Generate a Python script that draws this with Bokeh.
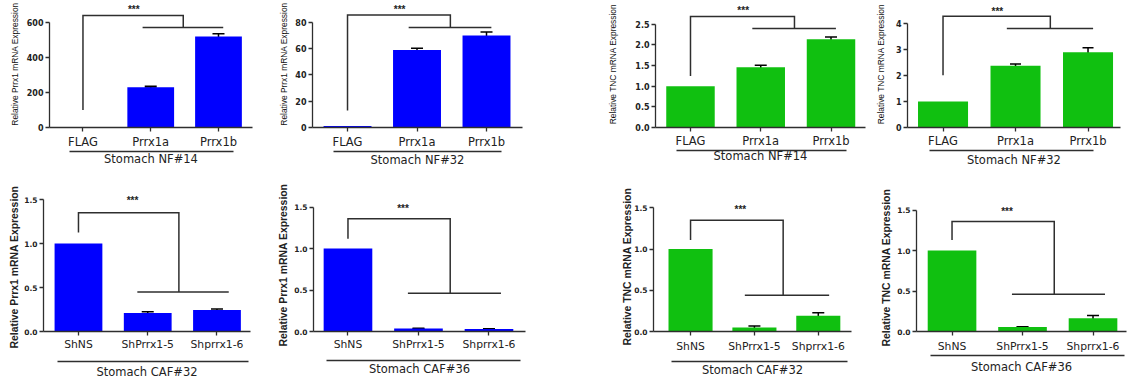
from bokeh.plotting import figure
from bokeh.models import (ColumnDataSource, Whisker, TeeHead, LinearAxis, FixedTicker,
                          Range1d, NumeralTickFormatter, Title)
from bokeh.layouts import row, column
from bokeh.core.properties import value
from bokeh.embed import file_html
from bokeh.resources import INLINE

# ---------------- data ----------------
overexp_groups = ["FLAG", "Prrx1a", "Prrx1b"]
knockdown_groups = ["ShNS", "ShPrrx1-5", "Shprrx1-6"]

nf14_prrx1 = [2.0, 230.0, 520.0]
nf14_prrx1_err = [0.0, 5.0, 16.0]
nf32_prrx1 = [1.2, 59.0, 70.0]
nf32_prrx1_err = [0.0, 1.2, 2.6]
nf14_tnc = [1.0, 1.46, 2.14]
nf14_tnc_err = [0.0, 0.05, 0.05]
nf32_tnc = [1.0, 2.38, 2.90]
nf32_tnc_err = [0.0, 0.07, 0.18]

caf32_prrx1 = [1.0, 0.21, 0.245]
caf32_prrx1_err = [0.0, 0.015, 0.012]
caf36_prrx1 = [1.0, 0.035, 0.03]
caf36_prrx1_err = [0.0, 0.004, 0.004]
caf32_tnc = [1.0, 0.05, 0.19]
caf32_tnc_err = [0.0, 0.018, 0.038]
caf36_tnc = [1.0, 0.055, 0.165]
caf36_tnc_err = [0.0, 0.005, 0.032]

# y-axis ticks
ticks_nf14_prrx1 = [0, 200, 400, 600]
ticks_nf32_prrx1 = [0, 20, 40, 60, 80]
ticks_nf14_tnc = [0.0, 0.5, 1.0, 1.5, 2.0, 2.5]
ticks_nf32_tnc = [0, 1, 2, 3, 4]
ticks_caf = [0.0, 0.5, 1.0, 1.5]

# significance brackets: [start of left leg, top line, lower line] in data units
sig_nf14_prrx1 = [100, 640, 571]
sig_nf32_prrx1 = [13, 85.6, 76]
sig_nf14_tnc = [1.25, 2.69, 2.40]
sig_nf32_tnc = [2.02, 4.29, 3.82]
sig_caf32_prrx1 = [1.125, 1.35, 0.45]
sig_caf36_prrx1 = [1.12, 1.36, 0.46]
sig_caf32_tnc = [1.11, 1.35, 0.44]
sig_caf36_tnc = [1.13, 1.36, 0.46]
star_level = {"nf14_prrx1": 686, "nf32_prrx1": 91.3, "nf14_tnc": 2.88, "nf32_tnc": 4.54,
              "caf": 1.51}

BLUE = "#0000ff"
GREEN = "#10c010"
AX = "#2e2e2e"
TXT = "#222222"


def make_panel(cats, vals, errs, color, ylabel, title, yticks, yfmt, sig, star_y, g):
    p = figure(width=g["w"], height=g["h"],
               x_range=Range1d(g["x0"], g["x1"]), y_range=Range1d(0, g["ytop"]),
               x_axis_type=None, y_axis_type=None,
               output_backend="svg", toolbar_location=None,
               min_border_left=g["l"], min_border_right=g["r"],
               min_border_top=0, min_border_bottom=g["h"] - g["axis_y"])
    p.outline_line_color = None
    p.background_fill_color = "white"
    p.border_fill_color = "white"

    idx = list(range(len(cats)))
    src = ColumnDataSource(dict(x=idx, top=vals))
    p.vbar(x="x", top="top", width=0.69, bottom=0, source=src,
           fill_color=color, line_color=None)

    ex = [i for i, e in zip(idx, errs) if e > 0]
    eu = [v + e for v, e in zip(vals, errs) if e > 0]
    el = [v - e for v, e in zip(vals, errs) if e > 0]
    esrc = ColumnDataSource(dict(x=ex, upper=eu, lower=el))
    p.add_layout(Whisker(source=esrc, base="x", upper="upper", lower="lower",
                         line_color="black", line_width=1.5,
                         upper_head=TeeHead(size=g["cap"], line_color="black", line_width=1.5),
                         lower_head=TeeHead(size=g["cap"], line_color="black", line_width=1.5)))

    # significance bracket
    start, top, low = sig
    xr, l0, l1 = g["br"]
    p.multi_line(xs=[[0, 0, xr, xr], [l0, l1]], ys=[[start, top, top, low], [low, low]],
                 line_color=AX, line_width=1.5, line_join="miter")
    p.text(x=[g["sx"]], y=[star_y], text=["***"], text_align="center",
           text_baseline="middle", y_offset=2,
           text_font=value("Liberation Sans"), text_font_size="10px",
           text_font_style="bold", text_color=TXT)

    # y axis
    yax = LinearAxis(ticker=FixedTicker(ticks=yticks), bounds=(0, yticks[-1]),
                     formatter=NumeralTickFormatter(format=yfmt),
                     major_label_standoff=2,
                     major_label_text_font="DejaVu Sans",
                     major_label_text_font_style="bold",
                     major_label_text_font_size=g["ytf"],
                     major_label_text_color=TXT,
                     major_tick_in=0, major_tick_out=4,
                     minor_tick_in=0, minor_tick_out=0,
                     axis_line_color=AX, axis_line_width=1.3,
                     major_tick_line_color=AX, major_tick_line_width=1.3)
    p.add_layout(yax, "left")
    if g["ylab_free"]:
        # rotated label beside the axis; it starts a little below the x axis
        hbox = 1.117 * float(g["ylf"].replace("px", ""))
        so = int(round(g["ylx"] - 6 - g["tw"] - hbox / 2))
        p.add_layout(Title(text=ylabel, align="left", offset=-(g["ylb"] - g["axis_y"]),
                           standoff=so,
                           text_font="Liberation Sans", text_font_size=g["ylf"],
                           text_font_style=g["ylw"], text_color=TXT), "left")
    else:
        yax.axis_label = ylabel
        yax.axis_label_standoff = g["yls"]
        yax.axis_label_text_font = "Liberation Sans"
        yax.axis_label_text_font_size = g["ylf"]
        yax.axis_label_text_font_style = g["ylw"]
        yax.axis_label_text_color = "#111111"

    # category axis
    f1 = g["cf"]
    s1 = int(round(g["lab_y"] - g["axis_y"] - 4 - 0.565 * f1)) - g["s1adj"]
    box_bottom = g["axis_y"] + 4 + s1 + 1.164 * f1 + 5
    gap = g["under_y"] - box_bottom
    xax = LinearAxis(ticker=FixedTicker(ticks=idx),
                     major_label_overrides={i: c for i, c in enumerate(cats)},
                     major_label_standoff=s1,
                     major_label_text_font="DejaVu Sans",
                     major_label_text_font_size=f"{f1}px",
                     major_label_text_color=TXT,
                     major_tick_in=0, major_tick_out=4,
                     minor_tick_in=0, minor_tick_out=0,
                     axis_line_color=AX, axis_line_width=1.3,
                     major_tick_line_color=AX, major_tick_line_width=1.3)
    if gap >= 2:
        xax.axis_label = " "
        xax.axis_label_text_font_size = "1px"
        xax.axis_label_standoff = int(round(gap - 1))
    p.add_layout(xax, "below")

    # underline + group title
    f2 = g["tf"]
    s2 = int(round(g["title_y"] - g["under_y"] - 0.565 * f2)) - g["s2adj"]
    uax = LinearAxis(ticker=FixedTicker(ticks=[]), bounds=g["ub"],
                     axis_label=title, axis_label_standoff=s2,
                     axis_label_text_font="DejaVu Sans",
                     axis_label_text_font_size=f"{f2}px",
                     axis_label_text_font_style="normal",
                     axis_label_text_color=TXT,
                     major_label_standoff=0,
                     major_tick_in=0, major_tick_out=0,
                     minor_tick_in=0, minor_tick_out=0,
                     axis_line_color=AX, axis_line_width=1.3)
    p.add_layout(uax, "below")
    return p


top_common = dict(h=180, br=(1.48, 0.88, 2.07), sx=0.75, cf=11.5, tf=11.5,
                  ylf="8.4px", ylw="normal", ytf="8px", ub=(-0.2, 2.22), ylab_free=False,
                  s1adj=3, s2adj=1)
bot_common = dict(h=205, br=(1.45, 0.85, 2.17), sx=0.78, cf=10.8, tf=11.5,
                  ylf="10.4px", ylw="bold", ytf="7.5px", ub=(-0.3, 2.45), ylab_free=True,
                  tw=13.3, s1adj=2, s2adj=3)

g1 = dict(top_common, w=270, l=49, r=18, x0=-0.494, x1=2.502, axis_y=127, ytop=725.7,
          cap=12, yls=4, lab_y=143, under_y=151, title_y=158)
g2 = dict(top_common, w=320, l=42, r=68, x0=-0.504, x1=2.518, axis_y=134, ytop=96.6,
          cap=12, yls=3, lab_y=150, under_y=158, title_y=166)
g3 = dict(top_common, w=282, l=65, r=7, x0=-0.498, x1=2.491, axis_y=128, ytop=3.077,
          cap=12, yls=14, lab_y=143.5, under_y=153, title_y=158.5)
g4 = dict(top_common, w=261, l=35, r=13, x0=-0.490, x1=2.448, axis_y=136, ytop=4.90,
          cap=11, yls=7, lab_y=151, under_y=160, title_y=169, ub=(-0.19, 2.08))
g5 = dict(bot_common, w=270, l=43, r=20, x0=-0.505, x1=2.484, axis_y=151, ytop=1.716,
          cap=12, ylx=28, ylb=168, lab_y=165, under_y=180, title_y=192)
g6 = dict(bot_common, w=320, l=43, r=65, x0=-0.489, x1=2.518, axis_y=153, ytop=1.821,
          cap=12, ylx=30, ylb=168, lab_y=167, under_y=181, title_y=191)
g7 = dict(bot_common, w=282, l=63, r=21, x0=-0.58, x1=2.52, axis_y=154, ytop=1.833,
          cap=12, ylx=22, ylb=168, lab_y=170, under_y=183, title_y=193)
g8 = dict(bot_common, w=261, l=44, r=7, x0=-0.504, x1=2.475, axis_y=157, ytop=1.865,
          cap=12, ylx=31, ylb=172, lab_y=173, under_y=183, title_y=196)

PR = "Relative Prrx1 mRNA Expression"
TN = "Relative TNC mRNA Expression"

p1 = make_panel(overexp_groups, nf14_prrx1, nf14_prrx1_err, BLUE, PR, "Stomach NF#14",
                ticks_nf14_prrx1, "0", sig_nf14_prrx1, star_level["nf14_prrx1"], g1)
p2 = make_panel(overexp_groups, nf32_prrx1, nf32_prrx1_err, BLUE, PR, "Stomach NF#32",
                ticks_nf32_prrx1, "0", sig_nf32_prrx1, star_level["nf32_prrx1"], g2)
p3 = make_panel(overexp_groups, nf14_tnc, nf14_tnc_err, GREEN, TN, "Stomach NF#14",
                ticks_nf14_tnc, "0.0", sig_nf14_tnc, star_level["nf14_tnc"], g3)
p4 = make_panel(overexp_groups, nf32_tnc, nf32_tnc_err, GREEN, TN, "Stomach NF#32",
                ticks_nf32_tnc, "0", sig_nf32_tnc, star_level["nf32_tnc"], g4)
p5 = make_panel(knockdown_groups, caf32_prrx1, caf32_prrx1_err, BLUE, PR, "Stomach CAF#32",
                ticks_caf, "0.0", sig_caf32_prrx1, star_level["caf"], g5)
p6 = make_panel(knockdown_groups, caf36_prrx1, caf36_prrx1_err, BLUE, PR, "Stomach CAF#36",
                ticks_caf, "0.0", sig_caf36_prrx1, star_level["caf"], g6)
p7 = make_panel(knockdown_groups, caf32_tnc, caf32_tnc_err, GREEN, TN, "Stomach CAF#32",
                ticks_caf, "0.0", sig_caf32_tnc, star_level["caf"], g7)
p8 = make_panel(knockdown_groups, caf36_tnc, caf36_tnc_err, GREEN, TN, "Stomach CAF#36",
                ticks_caf, "0.0", sig_caf36_tnc, star_level["caf"], g8)

layout = column(row(p1, p2, p3, p4, spacing=0), row(p5, p6, p7, p8, spacing=0), spacing=0)
open("out.html", "w").write(file_html(layout, INLINE))
